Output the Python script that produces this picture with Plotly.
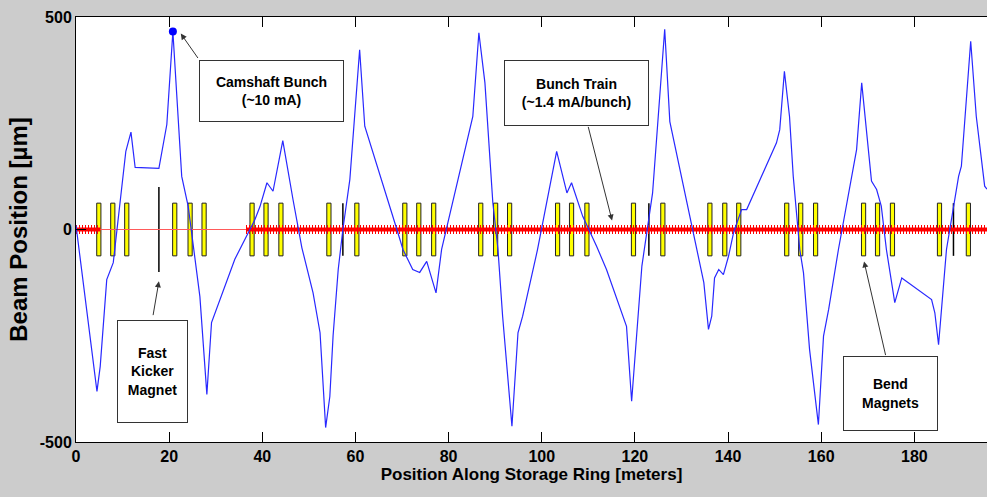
import plotly.graph_objects as go

# beam orbit (position in m, offset in um)
pos = [0, 4.5, 5.2, 6.6, 8.0, 10.7, 11.8, 12.7, 17.8, 19.5, 20.8, 22.7, 24.1,
       26.6, 28.1, 29.1, 34.1, 35.2, 37.0, 38.4, 39.5, 41.0, 42.3, 44.4, 46.6,
       48.5, 50.9, 52.4, 53.6, 54.5, 55.2, 56.3, 57.3, 58.8, 60.9, 62.0, 68.9,
       70.2, 72.3, 73.8, 75.3, 77.3, 78.5, 85.2, 86.5, 87.8, 89.5, 90.6, 91.6,
       93.6, 94.9, 95.9, 99.1, 103.2, 105.4, 106.4, 108.8, 111.8, 113.9, 118.2,
       119.3, 121.5, 123.8, 125.3, 126.4, 127.5, 133.3, 134.8, 135.8, 136.5,
       137.1, 138.0, 139.0, 140.1, 141.2, 142.9, 144.0, 150.4, 151.1, 152.1,
       153.2, 154.0, 155.4, 156.2, 157.5, 159.4, 160.5, 161.6, 163.7, 167.6,
       168.7, 169.7, 170.8, 171.9, 172.9, 174.0, 174.7, 175.8, 177.3, 183.7,
       184.4, 185.2, 186.9, 187.6, 189.5, 190.1, 192.1, 193.3, 195.1, 195.6]
orbit = [10, -381, -322, -118, -78, 184, 229, 146, 144, 247, 466, 125, 54,
         -158, -388, -219, -70, -47, -7, 23, 54, 110, 90, 209, 70,
         -43, -149, -243, -466, -393, -250, -94, 0, 118, 423, 243, 0,
         -47, -94, -101, -75, -149, -47, 266, 463, 345, 63, -47, -204,
         -463, -243, -204, -47, 184, 86, 110, 31, -40, -94, -228,
         -404, -86, 86, 306, 471, 254, -47, -125, -235, -204,
         -114, -94, -106, -63, -7, 47, 47, 204, 235, 372,
         266, 125, -47, -102, -282, -459, -251, -188, -47, 188,
         345, 227, 114, 94, 55, -47, -94, -172, -114, -165,
         -196, -271, -47, 0, 125, 149, 443, 266, 102, 95]

camshaft_pos = [20.8]
camshaft_orbit = [466]

bend_magnets = [4.9, 7.9, 10.9, 21.2, 24.5, 27.5, 37.8, 40.8, 44.0,
                54.3, 60.3, 70.6, 73.6, 76.8, 86.9, 90.1, 93.1,
                103.4, 106.4, 109.7, 119.7, 126.0, 136.1, 139.3, 142.3,
                152.6, 155.6, 158.8, 169.1, 172.1, 175.3, 185.4, 191.6]
fast_kicker = [17.8]
other_elements = [57.3, 123.0, 188.4]

ring_end = 195.6
train_segments = [(0, 5.2), (36.5, 195.6)]

x_ticks = [0, 20, 40, 60, 80, 100, 120, 140, 160, 180]
y_ticks = [-500, 0, 500]
y_tick_text = ["-500", "0", "500"]

MAG_HALF = 62
KICK_HALF = 100

fig = go.Figure()

fig.add_trace(go.Bar(x=bend_magnets, y=[2 * MAG_HALF] * len(bend_magnets),
                     base=-MAG_HALF, width=0.9,
                     marker=dict(color="#ffff00", line=dict(color="#222", width=1))))

lx, ly = [], []
for p in other_elements:
    lx += [p, p, None]
    ly += [-MAG_HALF, MAG_HALF, None]
for p in fast_kicker:
    lx += [p, p, None]
    ly += [-KICK_HALF, KICK_HALF, None]
fig.add_trace(go.Scatter(x=lx, y=ly, mode="lines",
                         line=dict(color="black", width=1.5)))

fig.add_trace(go.Scatter(x=[0, ring_end], y=[0, 0], mode="lines",
                         line=dict(color="rgb(255,90,90)", width=1)))
for a, b in train_segments:
    fig.add_trace(go.Scatter(x=[a, b], y=[0, 0], mode="lines",
                             line=dict(color="red", width=4)))
    fig.add_trace(go.Scatter(x=[a, b], y=[0, 0], mode="lines",
                             line=dict(color="red", width=9, dash="1px,2px")))

fig.add_trace(go.Scatter(x=pos, y=orbit, mode="lines",
                         line=dict(color="rgb(40,40,255)", width=1.2)))
fig.add_trace(go.Scatter(x=camshaft_pos, y=camshaft_orbit, mode="markers",
                         marker=dict(color="rgb(0,0,255)", size=8)))

box_font = dict(family="Liberation Sans", size=14, color="black", weight="bold")
boxes = [
    (42.0, 327, "Camshaft Bunch<br>(~10 mA)", 143, 60),
    (107.5, 322, "Bunch Train<br>(~1.4 mA/bunch)", 143, 64),
    (16.4, -335, "Fast<br>Kicker<br>Magnet", 69, 101),
    (174.9, -387, "Bend<br>Magnets", 93, 73),
]
for x, y, t, w, h in boxes:
    fig.add_annotation(x=x, y=y, text=t, showarrow=False, width=w, height=h,
                       font=box_font, bgcolor="white", bordercolor="#333",
                       borderwidth=1, borderpad=0)

arrows = [
    (26.4, 400, 22.5, 461),
    (109.9, 245, 115.1, 21),
    (16.5, -205, 17.8, -122),
    (173.9, -299, 169.2, -75),
]
for ax, ay, x, y in arrows:
    fig.add_annotation(x=x, y=y, ax=ax, ay=ay, axref="x", ayref="y", text="",
                       showarrow=True, arrowhead=2, arrowsize=1.2,
                       arrowwidth=1, arrowcolor="#333")

fig.update_layout(
    width=987, height=497,
    margin=dict(l=76, r=0, t=17, b=55),
    paper_bgcolor="#cccccc", plot_bgcolor="white",
    showlegend=False, barmode="overlay",
    font=dict(family="Liberation Sans", color="black"),
)
fig.update_xaxes(range=[0, ring_end], tickvals=x_ticks, ticks="inside",
                 ticklen=10, tickcolor="black", showline=True, linecolor="black",
                 linewidth=1, mirror="ticks", showgrid=False, zeroline=False,
                 automargin=False,
                 tickfont=dict(size=16, weight="bold"),
                 title=dict(text="Position Along Storage Ring [meters]",
                            font=dict(size=17, weight="bold"), standoff=2))
fig.update_yaxes(range=[-500, 500], tickvals=y_ticks, ticktext=y_tick_text,
                 ticks="inside", automargin=False,
                 ticklen=10, tickcolor="black", showline=True, linecolor="black",
                 linewidth=1, showgrid=False, zeroline=False,
                 tickfont=dict(size=16, weight="bold"),
                 title=dict(text="Beam Position [µm]",
                            font=dict(size=24, weight="bold"), standoff=5))

fig.write_html("out.html", config={"displayModeBar": False},
               post_script="document.body.style.margin='0';"
                           "document.body.style.background='#cccccc';")
